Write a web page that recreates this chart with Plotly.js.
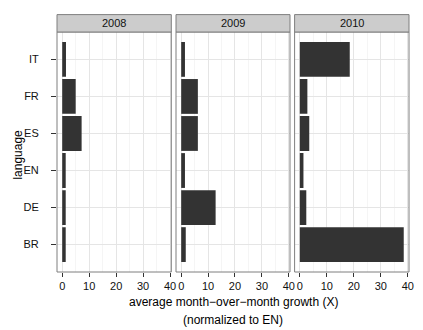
<!DOCTYPE html>
<html><head><meta charset="utf-8">
<script src="https://cdn.plot.ly/plotly-3.0.1.min.js"></script>
<style>html,body{margin:0;padding:0;background:#fff}#c{width:423px;height:330px}</style>
</head><body><div id="c"></div>
<script>
const languages = ['BR','DE','EN','ES','FR','IT'];
const years = ['2008','2009','2010'];
const growth2008 = [1.3, 1.3, 1.3, 7.2, 5.0, 1.4];
const growth2009 = [1.7, 12.8, 1.4, 6.2, 6.2, 1.4];
const growth2010 = [38.5, 2.4, 1.35, 3.5, 2.8, 18.5];
const series = [growth2008, growth2009, growth2010];
const xTicks = [0, 10, 20, 30, 40];

const W = 423, H = 330;
const L = 56.7, R = 408.7, T = 31.7, B = 271.7;
const pw = R - L, ph = B - T;
const panelsPx = [[56.7, 171], [175.7, 289.7], [294.3, 408.7]];
const domains = panelsPx.map(p => [(p[0]-L)/pw, (p[1]-L)/pw]);
const stripTop = (T - 14.3) / ph;

const font = 'Liberation Sans, Arial, sans-serif';
const txt = '#111111';
const traces = series.map((vals, i) => ({
  type: 'bar', orientation: 'h',
  x: vals, y: languages,
  xaxis: i === 0 ? 'x' : 'x' + (i+1), yaxis: 'y',
  marker: {color: '#333333', line: {width: 0}},
  hoverinfo: 'x+y', showlegend: false
}));

const layout = {
  width: W, height: H,
  margin: {l: L, r: W - R, t: T, b: H - B, pad: 0},
  paper_bgcolor: '#fff', plot_bgcolor: '#fff',
  bargap: 0.06,
  font: {family: font, size: 11, color: txt},
  yaxis: {
    type: 'category', categoryorder: 'array', categoryarray: languages,
    range: [-0.74, 5.74], showgrid: true, gridcolor: '#e5e5e5', gridwidth: 1,
    ticks: 'outside', ticklen: 5, tickcolor: '#333', tickwidth: 1,
    ticklabelstandoff: 10, zeroline: false, showline: false,
    tickfont: {family: font, size: 11, color: txt}, anchor: 'x'
  },
  shapes: [], annotations: []
};
for (let i = 0; i < 3; i++) {
  const key = i === 0 ? 'xaxis' : 'xaxis' + (i+1);
  layout[key] = {
    domain: domains[i], range: [-1.93, 40.45], anchor: 'y',
    tickvals: xTicks, ticktext: xTicks.map(String),
    showgrid: true, gridcolor: '#e5e5e5', gridwidth: 1,
    minor: {dtick: 5, tick0: 5, showgrid: true, gridcolor: '#f5f5f5', gridwidth: 1},
    ticks: 'outside', ticklen: 4, tickcolor: '#333', tickwidth: 1,
    zeroline: false, showline: false,
    tickfont: {family: font, size: 11, color: txt}
  };
  const d = domains[i];
  layout.shapes.push({type: 'rect', xref: 'paper', yref: 'paper', x0: d[0], x1: d[1], y0: 0, y1: 1,
    line: {color: '#7f7f7f', width: 1}, fillcolor: 'rgba(0,0,0,0)', layer: 'above'});
  layout.shapes.push({type: 'rect', xref: 'paper', yref: 'paper', x0: d[0], x1: d[1], y0: 1, y1: 1 + stripTop,
    line: {color: '#7f7f7f', width: 1}, fillcolor: '#cccccc', layer: 'above'});
  layout.annotations.push({xref: 'paper', yref: 'paper', x: (d[0]+d[1])/2, y: 1 + stripTop/2,
    text: years[i], showarrow: false, xanchor: 'center', yanchor: 'middle',
    font: {family: font, size: 11, color: txt}});
}
layout.annotations.push({xref: 'paper', yref: 'paper', x: (18 - L)/pw, y: (B - 154)/ph, textangle: -90,
  text: 'language', showarrow: false, xanchor: 'center', yanchor: 'middle',
  font: {family: font, size: 12, color: '#000'}});
layout.annotations.push({xref: 'paper', yref: 'paper', x: 0.5, y: (B - 302)/ph,
  text: 'average month\u2212over\u2212month growth (X)', showarrow: false, xanchor: 'center', yanchor: 'middle',
  font: {family: font, size: 12, color: '#000'}});
layout.annotations.push({xref: 'paper', yref: 'paper', x: 0.5, y: (B - 320)/ph,
  text: '(normalized to EN)', showarrow: false, xanchor: 'center', yanchor: 'middle',
  font: {family: font, size: 12, color: '#000'}});

Plotly.newPlot('c', traces, layout, {displayModeBar: false, staticPlot: true});
</script></body></html>
